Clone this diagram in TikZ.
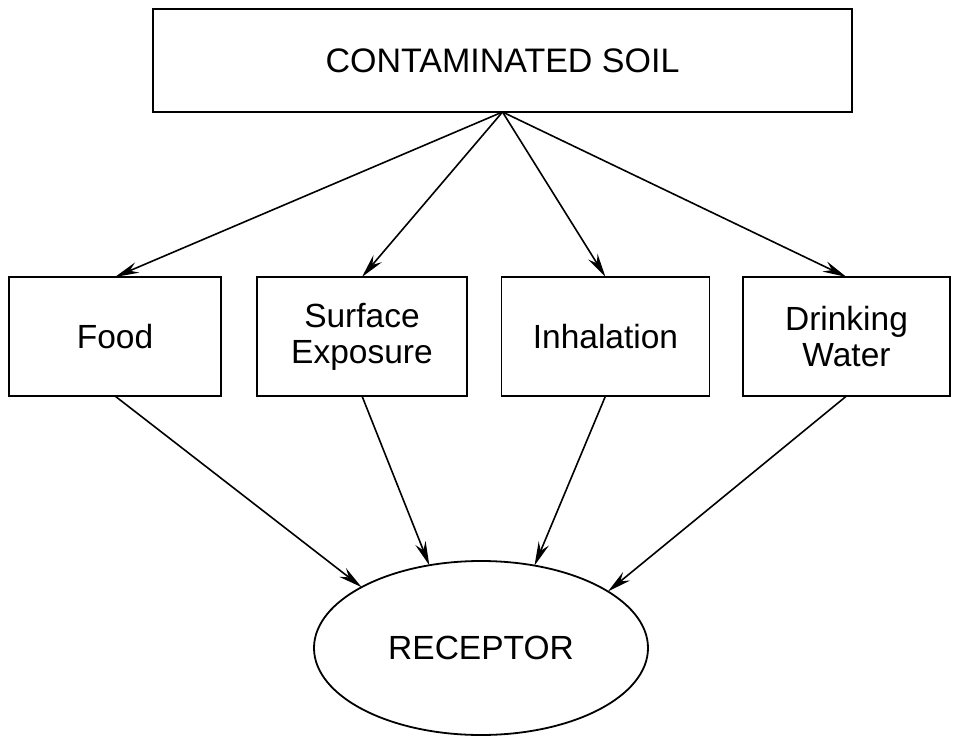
\documentclass[tikz,border=0pt]{standalone}
\usepackage{fontspec}
\setmainfont{Liberation Sans}
\usetikzlibrary{arrows.meta,shapes.geometric}
\begin{document}
\begin{tikzpicture}[x=1pt,y=-1pt,
  every node/.style={inner sep=0pt,outer sep=0pt,font=\fontsize{33.5}{36}\selectfont,align=center},
  box/.style={draw,line width=1.8pt,minimum height=119pt},
  arr/.style={line width=1.6pt,-{Stealth[length=24pt,width=11pt,inset=8pt]}}]
\useasboundingbox (0,0) rectangle (953,738);
\node[box,minimum width=699pt,minimum height=103pt,font=\fontsize{34}{36}\selectfont] (soil) at (502.5,60.5) {CONTAMINATED SOIL};
\node[box,minimum width=212pt] (food) at (115,336.5) {Food};
\node[box,minimum width=210pt] (surf) at (362,336.5) {Surface\\Exposure};
\node[box,minimum width=208pt] (inh) at (605.5,336.5) {Inhalation};
\node[box,minimum width=207pt] (drink) at (846.5,336.5) {Drinking\\Water};
\node[draw,line width=1.8pt,ellipse,minimum width=334pt,minimum height=174pt] (rec) at (481,648) {RECEPTOR};
\draw[arr] (soil.south) -- (food.north);
\draw[arr] (soil.south) -- (surf.north);
\draw[arr] (soil.south) -- (inh.north);
\draw[arr] (soil.south) -- (drink.north);
\draw[arr] (food.south) -- (rec.153.8);
\draw[arr] (surf.south) -- (rec.122.6);
\draw[arr] (inh.south) -- (rec.57.1);
\draw[arr] (drink.south) -- (rec.24.9);
\end{tikzpicture}
\end{document}
